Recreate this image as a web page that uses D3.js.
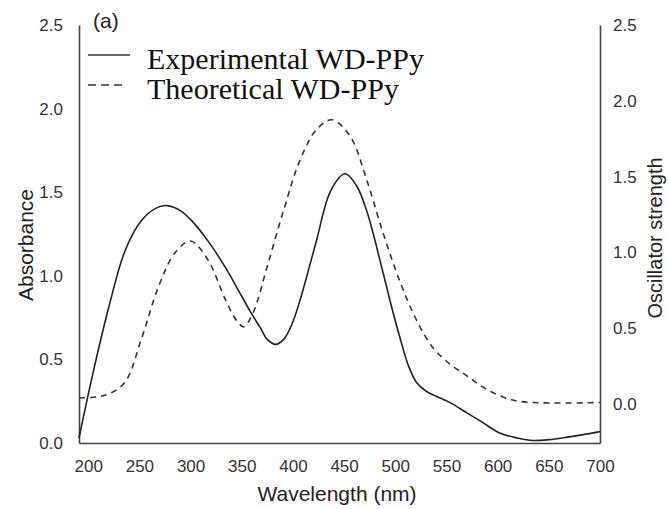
<!DOCTYPE html>
<html>
<head>
<meta charset="utf-8">
<script src="https://cdn.jsdelivr.net/npm/d3@7"></script>
<style>
  body { margin: 0; background: #fff; }
  text { font-family: Arial, "Liberation Sans", sans-serif; }
</style>
</head>
<body>
<svg id="chart" width="669" height="509"></svg>
<script>
// Experimental absorbance (left axis)
var exp_wl  = [191, 204, 220, 236, 252, 265, 277, 290, 301, 318, 334, 347, 358, 368, 375,
               383, 391, 399, 407, 415, 423, 437, 451, 462, 472, 488, 497, 505, 513, 521,
               530, 540, 554, 570, 586, 602, 619, 635, 650, 668, 700];
var exp_abs = [0.03, 0.40, 0.81, 1.15, 1.33, 1.40, 1.42, 1.39, 1.33, 1.20, 1.05, 0.91, 0.79, 0.69, 0.62,
               0.59, 0.62, 0.71, 0.855, 1.03, 1.21, 1.51, 1.61, 1.54, 1.39, 1.02, 0.80, 0.62, 0.46, 0.36,
               0.31, 0.28, 0.24, 0.18, 0.12, 0.06, 0.03, 0.015, 0.02, 0.035, 0.068];

// Theoretical oscillator strength (right axis)
var th_wl  = [191, 205, 220, 236, 252, 269, 285, 300, 317, 334, 345, 352, 361, 375, 391,
              407, 423, 438, 456, 472, 488, 505, 521, 537, 554, 570, 586, 602, 619, 651, 700];
var th_osc = [0.04, 0.045, 0.066, 0.145, 0.43, 0.78, 1.0, 1.075, 0.95, 0.69, 0.55, 0.51, 0.60, 0.91, 1.28,
              1.61, 1.81, 1.875, 1.765, 1.48, 1.13, 0.80, 0.55, 0.37, 0.26, 0.186, 0.11, 0.055, 0.02, 0.007, 0.01];

var x_ticks     = [200, 250, 300, 350, 400, 450, 500, 550, 600, 650, 700];
var left_ticks  = [0, 0.5, 1.0, 1.5, 2.0, 2.5];
var right_ticks = [0, 0.5, 1.0, 1.5, 2.0, 2.5];
var legend_names = ["Experimental WD-PPy", "Theoretical WD-PPy"];

var svg = d3.select("#chart");
var AXIS_COLOR = "#444";

var x  = d3.scaleLinear().domain([191, 700]).range([79, 600]);
var yl = d3.scaleLinear().domain([0, 2.5]).range([443, 25]);
var yr = d3.scaleLinear().domain([-0.257, 2.5]).range([443, 25]);

// axes without tick marks, labels only
var x_axis = d3.axisBottom(x).tickValues(x_ticks).tickSize(0).tickPadding(17);
var l_axis = d3.axisLeft(yl).tickValues(left_ticks).tickSize(0).tickPadding(16)
               .tickFormat(d3.format(".1f"));
var r_axis = d3.axisRight(yr).tickValues(right_ticks).tickSize(0).tickPadding(13)
               .tickFormat(d3.format(".1f"));

function style_axis(g) {
  g.select(".domain").attr("stroke", AXIS_COLOR).attr("stroke-width", 1.6);
  g.selectAll("text").attr("fill", "#333").style("font-size", "17px")
   .style("font-family", "Arial, 'Liberation Sans', sans-serif");
}

svg.append("g").attr("transform", "translate(0,443)").call(x_axis).call(style_axis);
svg.append("g").attr("transform", "translate(79,0)").call(l_axis).call(style_axis);
svg.append("g").attr("transform", "translate(600,0)").call(r_axis).call(style_axis);

// lines
var exp_data = exp_wl.map(function (w, i) { return [w, exp_abs[i]]; });
var th_data  = th_wl.map(function (w, i) { return [w, th_osc[i]]; });

var exp_line = d3.line()
  .x(function (d) { return x(d[0]); })
  .y(function (d) { return yl(d[1]); })
  .curve(d3.curveCatmullRom.alpha(0.5));

var th_line = d3.line()
  .x(function (d) { return x(d[0]); })
  .y(function (d) { return yr(d[1]); })
  .curve(d3.curveCatmullRom.alpha(0.5));

svg.append("path").datum(exp_data)
   .attr("d", exp_line)
   .attr("fill", "none").attr("stroke", "#222").attr("stroke-width", 1.6);

svg.append("path").datum(th_data)
   .attr("d", th_line)
   .attr("fill", "none").attr("stroke", "#333").attr("stroke-width", 1.6)
   .attr("stroke-dasharray", "6,5");

// axis titles
svg.append("text").attr("x", 337).attr("y", 501).attr("text-anchor", "middle")
   .style("font-size", "21px").attr("fill", "#222").text("Wavelength (nm)");

svg.append("text").attr("transform", "translate(33,245) rotate(-90)")
   .attr("text-anchor", "middle").style("font-size", "21px").attr("fill", "#222")
   .text("Absorbance");

// right title sits close to the edge, as in the original
svg.append("text").attr("transform", "translate(662,238) rotate(-90)")
   .attr("text-anchor", "middle").style("font-size", "20px").attr("fill", "#222")
   .text("Oscillator strength");

// panel label
svg.append("text").attr("x", 93).attr("y", 28).style("font-size", "21px")
   .attr("fill", "#222").text("(a)");

// legend
var legend = svg.append("g");
legend_names.forEach(function (name, i) {
  var ly = 55 + i * 30;
  legend.append("line")
        .attr("x1", 88).attr("x2", i === 1 ? 126 : 130).attr("y1", ly).attr("y2", ly)
        .attr("stroke", "#333").attr("stroke-width", 1.5)
        .attr("stroke-dasharray", i === 1 ? "8,5" : null);
  legend.append("text")
        .attr("x", 147).attr("y", ly + 14)
        .style("font-family", "'Times New Roman', 'Liberation Serif', serif")
        .style("font-size", "30px").attr("fill", "#111")
        .text(name);
});
</script>
</body>
</html>
